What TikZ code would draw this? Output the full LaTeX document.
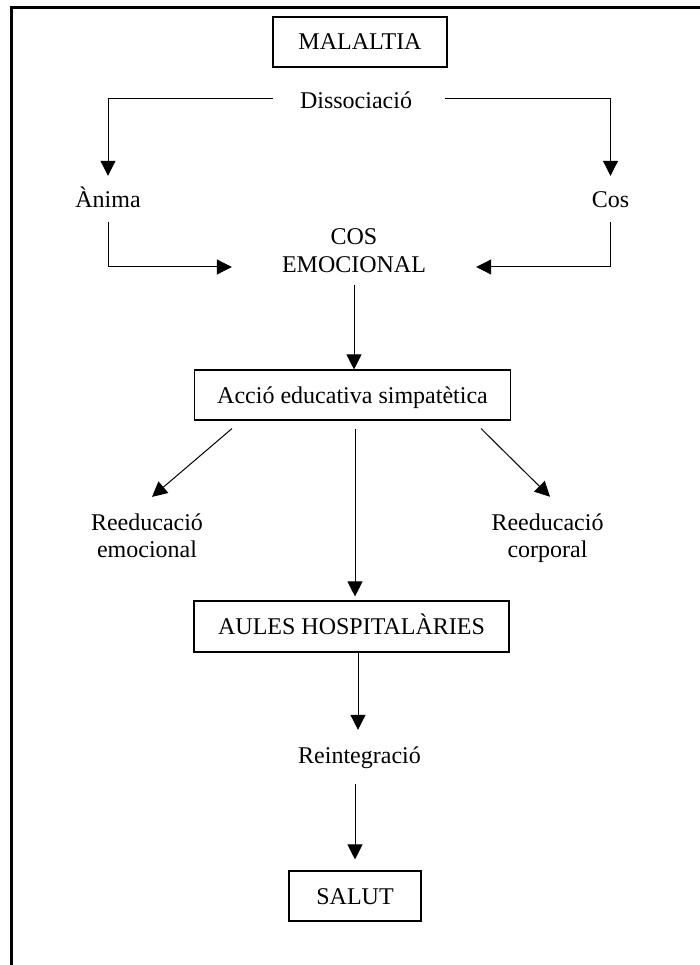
\documentclass[tikz,border=0pt]{standalone}
\usepackage{fontspec}
\setmainfont{Liberation Serif}
\usetikzlibrary{arrows.meta}
\tikzset{
  lbl/.style={inner sep=0pt, font=\fontsize{24}{27.5}\selectfont, text height=16pt, text depth=0pt},
  mlbl/.style={inner sep=0pt, font=\fontsize{24}{27.5}\selectfont, align=center},
  box/.style={draw, line width=1.1pt, inner sep=0pt, font=\fontsize{24}{27.5}\selectfont, text height=16pt, text depth=0pt},
  arr/.style={line width=1pt, -{Triangle[width=15pt,length=15pt]}},
  ln/.style={line width=1pt}
}
\begin{document}
\begin{tikzpicture}[x=1pt,y=-1pt]
\useasboundingbox (0,0) rectangle (699,965);
\fill[white] (0,0) rectangle (699,965);
% frame
\draw[line width=3pt, line join=miter] (11,975) -- (11,8) -- (710,8);

% nodes
\node[box, minimum width=174pt, minimum height=50pt] (mal) at (360,42) {MALALTIA};
\node[lbl, inner xsep=26.5pt] (diss) at (356,101) {Dissociació};
\node[lbl, inner ysep=16pt] (anima) at (108,200) {Ànima};
\node[lbl, inner ysep=16pt] (cos) at (610.5,200) {Cos};
\node[mlbl, inner xsep=50pt, inner ysep=12pt] (cosem) at (354,250.5) {COS\\EMOCIONAL};
\node[box, minimum width=316pt, minimum height=50pt] (accio) at (352.5,395) {Acció educativa simpatètica};
\node[mlbl] (remo) at (147,535.8) {Reeducació\\emocional};
\node[mlbl] (remc) at (547.5,538.1) {Reeducació\\corporal};
\node[box, minimum width=315pt, minimum height=51pt] (aules) at (351.5,626.5) {AULES HOSPITALÀRIES};
\node[lbl, inner ysep=17pt] (reint) at (359.5,755) {Reintegració};
\node[box, minimum width=132pt, minimum height=50pt] (salut) at (355,896) {SALUT};

% connectors
\draw[arr] ([yshift=2pt]diss.west) -| (anima.north);
\draw[arr] ([xshift=6pt,yshift=2pt]diss.east) -| (cos.north);
\draw[arr] ([yshift=2pt]anima.south) |- ([yshift=-16.5pt]cosem.west);
\draw[arr] ([yshift=2pt]cos.south) |- ([yshift=-16.5pt]cosem.east);
\draw[arr] (cosem.south) -- (cosem.south |- accio.north);
\draw[arr] ([xshift=-120.5pt,yshift=-8pt]accio.south) -- ([xshift=5pt,yshift=16.5pt]remo.north);
\draw[arr] ([xshift=128.5pt,yshift=-8pt]accio.south) -- ([xshift=2.5pt,yshift=16.5pt]remc.north);
\draw[arr, shorten >=4pt] ([xshift=2.5pt,yshift=-8pt]accio.south) -- ([xshift=2.5pt]accio.south |- aules.north);
\draw[arr] ([xshift=-1.5pt]reint.north |- aules.south) -- ([xshift=-1.5pt]reint.north);
\draw[arr, shorten >=11pt] ([yshift=-4pt]salut.north |- reint.south) -- (salut.north);
\end{tikzpicture}
\end{document}
